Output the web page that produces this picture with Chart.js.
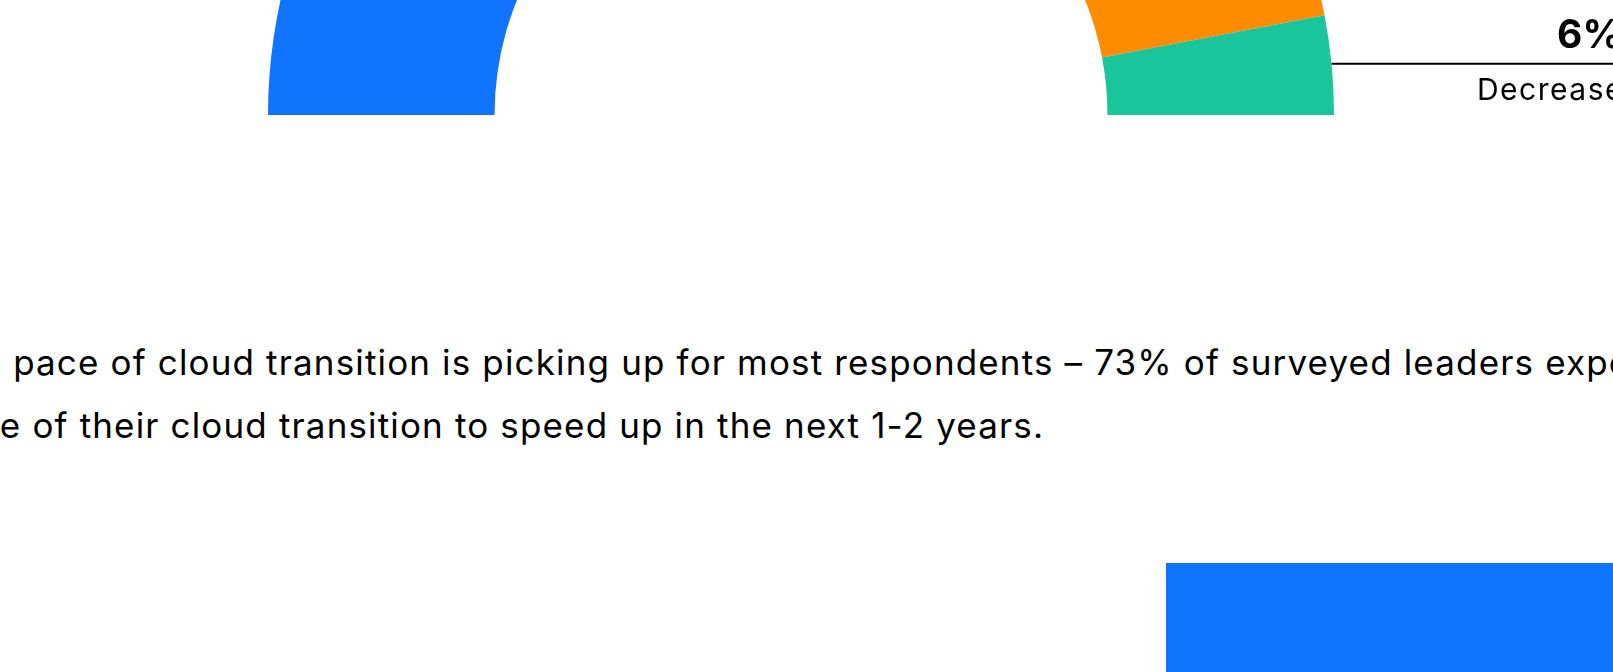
<!DOCTYPE html>
<html>
<head>
<meta charset="utf-8">
<script src="https://cdn.jsdelivr.net/npm/chart.js@4"></script>
<style>
  html, body { margin: 0; padding: 0; background: #fff; overflow: hidden; }
  body { width: 1613px; height: 672px; position: relative; font-family: Inter, sans-serif; color: #000; }
  #gauge { position: absolute; left: 0; top: -418px; }
  #lead {
    position: absolute; top: 331px; left: -60px;
    font-size: 35px; line-height: 63px; letter-spacing: 1.15px; white-space: nowrap; color: #000;
  }
  #cta { position: absolute; left: 1166px; top: 563px; right: 0; bottom: 0; background: #1174ff; }
</style>
</head>
<body>
<canvas id="gauge" width="1613" height="533"></canvas>
<div id="lead"><span id="lead-start">The </span>pace of cloud transition is picking up for most respondents – 73% of surveyed leaders expect the<br>pace of their cloud transition to speed up in the next 1-2 years.</div>
<div id="cta"></div>
<script>
const categories = ["Increase", "Stay the same", "Decrease"];
const shares = [73, 21, 6];
const colors = ["#1174ff", "#ff8b00", "#1bc59c"];

// line "pace" starts around x=13
const startSpan = document.getElementById("lead-start");
document.getElementById("lead").style.left = (13 - startSpan.offsetWidth) + "px";

const sliceLabels = {
    id: "sliceLabels",
    afterDraw(chart) {
        const ctx = chart.ctx;
        const meta = chart.getDatasetMeta(0);
        meta.data.forEach((arc, i) => {
            const mid = (arc.startAngle + arc.endAngle) / 2;
            const px = arc.x + Math.cos(mid) * arc.outerRadius;
            const py = arc.y + Math.sin(mid) * arc.outerRadius - 1;
            const right = Math.cos(mid) >= 0;
            const edge = right ? chart.width : 0;
            ctx.save();
            ctx.strokeStyle = "#000";
            ctx.lineWidth = 2;
            ctx.beginPath();
            ctx.moveTo(px, py);
            ctx.lineTo(edge, py);
            ctx.stroke();
            ctx.fillStyle = "#000";
            ctx.textAlign = right ? "right" : "left";
            const tx = right ? chart.width + 9 : -9;
            ctx.font = "bold 39px Inter";
            ctx.fillText(shares[i] + "%", tx, py - 16);
            ctx.font = "30px Inter";
            ctx.letterSpacing = "1.5px";
            ctx.fillText(categories[i], tx + 2, py + 36);
            ctx.restore();
        });
    }
};

new Chart(document.getElementById("gauge"), {
    type: "doughnut",
    data: {
        labels: categories,
        datasets: [{
            data: shares,
            backgroundColor: colors,
            borderWidth: 0,
            hoverOffset: 0
        }]
    },
    options: {
        responsive: false,
        animation: false,
        rotation: -90,
        circumference: 180,
        cutout: "57.5%",
        layout: { padding: { left: 268, right: 279, top: 0, bottom: 0 } },
        plugins: {
            legend: { display: false },
            tooltip: { enabled: false }
        }
    },
    plugins: [sliceLabels]
});
</script>
</body>
</html>
